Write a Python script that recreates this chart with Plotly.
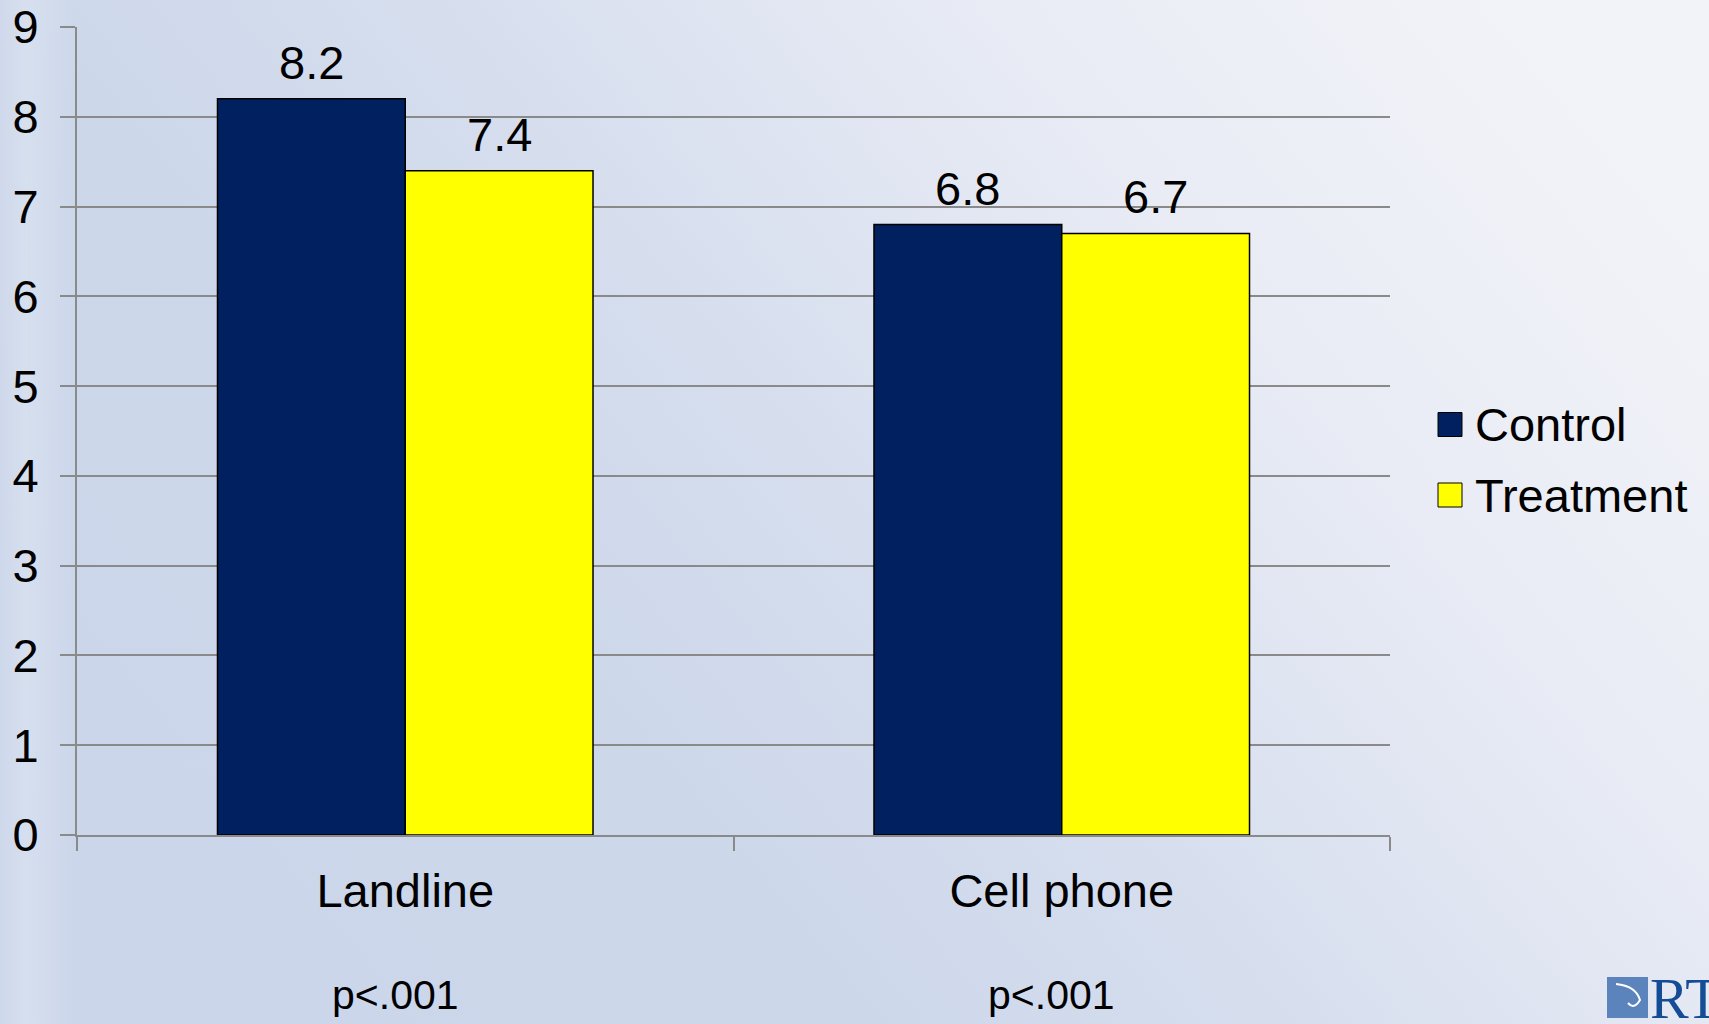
import base64
import plotly.graph_objects as go

# ---- data -------------------------------------------------------------
categories = ["Landline", "Cell phone"]
series_names = ["Control", "Treatment"]
control_values = [8.2, 6.8]
treatment_values = [7.4, 6.7]
p_value_labels = ["p<.001", "p<.001"]
y_tick_values = list(range(0, 10))

# ---- styling ----------------------------------------------------------
W, H = 1709, 1024
M_L, M_R, M_T, M_B = 77, 319, 27, 189
PLOT_W = W - M_L - M_R
PLOT_H = H - M_T - M_B
FONT = "Liberation Sans, Arial, sans-serif"
NAVY = "#00205f"
YELLOW = "#ffff00"
GRID = "#8a8a8a"
series_colors = [NAVY, YELLOW]


def px_x(x):
    """Pixel column -> paper x."""
    return (x - M_L) / PLOT_W


def px_y(y):
    """Pixel row -> paper y."""
    return (M_T + PLOT_H - y) / PLOT_H


# soft slide-style background gradient as an inline SVG
bg_svg = f"""<svg xmlns='http://www.w3.org/2000/svg' width='{W}' height='{H}' viewBox='0 0 {W} {H}'>
<defs>
<linearGradient id='g' x1='0' y1='0.75' x2='1' y2='0.25'>
<stop offset='0' stop-color='#cbd6ea'/>
<stop offset='0.3' stop-color='#ccd7ea'/>
<stop offset='0.5' stop-color='#d6deee'/>
<stop offset='0.77' stop-color='#e9ecf5'/>
<stop offset='1' stop-color='#f2f3f8'/>
</linearGradient>
<linearGradient id='s' x1='0' y1='0' x2='1' y2='0'>
<stop offset='0' stop-color='#ffffff' stop-opacity='0.05'/>
<stop offset='0.35' stop-color='#ffffff' stop-opacity='0.22'/>
<stop offset='1' stop-color='#ffffff' stop-opacity='0'/>
</linearGradient>
</defs>
<rect width='{W}' height='{H}' fill='url(#g)'/>
<rect width='75' height='{H}' fill='url(#s)'/>
</svg>"""
bg_uri = "data:image/svg+xml;base64," + base64.b64encode(bg_svg.encode()).decode()

fig = go.Figure()
for name, vals, color in zip(series_names, [control_values, treatment_values], series_colors):
    fig.add_trace(go.Bar(
        name=name,
        x=categories,
        y=vals,
        marker=dict(color=color, line=dict(color="#000000", width=1.5)),
        showlegend=False,
        hoverinfo="x+y+name",
    ))

annotations = []
# value labels above each bar
bar_half_offset = PLOT_W / len(categories) * (1 - 0.428) / 4
for si, vals in enumerate([control_values, treatment_values]):
    shift = -bar_half_offset if si == 0 else bar_half_offset
    for cat, v in zip(categories, vals):
        annotations.append(dict(
            x=cat, y=v, xref="x", yref="y", text=f"{v:.1f}",
            showarrow=False, xanchor="center", yanchor="bottom",
            xshift=shift, yshift=8,
            font=dict(family=FONT, size=47, color="#000000"),
        ))

# significance notes under each category
for cat, p in zip(categories, p_value_labels):
    annotations.append(dict(
        x=cat, y=px_y(995), xref="x", yref="paper", text=p,
        showarrow=False, xanchor="center", yanchor="middle", xshift=-10,
        font=dict(family=FONT, size=41, color="#000000"),
    ))

# legend: coloured squares with series names
shapes = []
legend_rows = [424.5, 495]
for name, color, yc in zip(series_names, series_colors, legend_rows):
    shapes.append(dict(
        type="rect", xref="paper", yref="paper",
        x0=px_x(1438), x1=px_x(1462), y0=px_y(yc + 12), y1=px_y(yc - 12),
        fillcolor=color, line=dict(color="#000000", width=1),
    ))
    annotations.append(dict(
        x=px_x(1473), y=px_y(yc), xref="paper", yref="paper", text=name,
        showarrow=False, xanchor="left", yanchor="middle",
        font=dict(family=FONT, size=47, color="#000000"),
    ))

# corner logo (runs off the right edge of the slide)
shapes.append(dict(
    type="rect", xref="paper", yref="paper",
    x0=px_x(1607), x1=px_x(1648), y0=px_y(1018), y1=px_y(977),
    fillcolor="#5b84bc", line=dict(width=0),
))
shapes.append(dict(
    type="path", xref="paper", yref="paper",
    path=(f"M {px_x(1616)},{px_y(984)} Q {px_x(1636)},{px_y(986)} {px_x(1640)},{px_y(1000)} "
          f"Q {px_x(1634)},{px_y(1010)} {px_x(1628)},{px_y(1003)}"),
    line=dict(color="#ffffff", width=2),
))
annotations.append(dict(
    x=px_x(1648), y=px_y(998), xref="paper", yref="paper", text="RTI",
    showarrow=False, xanchor="left", yanchor="middle",
    font=dict(family="Liberation Serif, Times New Roman, serif", size=58, color="#154c96"),
))

fig.update_layout(
    width=W, height=H,
    margin=dict(l=M_L, r=M_R, t=M_T, b=M_B, pad=0, autoexpand=False),
    paper_bgcolor="#d8dfee",
    plot_bgcolor="rgba(0,0,0,0)",
    barmode="group",
    bargap=0.428,
    bargroupgap=0,
    showlegend=False,
    font=dict(family=FONT, size=47, color="#000000"),
    annotations=annotations,
    shapes=shapes,
    images=[dict(
        source=bg_uri, xref="paper", yref="paper",
        x=px_x(0), y=px_y(0), sizex=W / PLOT_W, sizey=H / PLOT_H,
        xanchor="left", yanchor="top", sizing="stretch", layer="below",
    )],
    xaxis=dict(
        type="category",
        automargin=False,
        showline=True, linecolor=GRID, linewidth=2,
        ticks="outside", tickson="boundaries", ticklen=14, tickcolor=GRID, tickwidth=2,
        showgrid=False,
        tickfont=dict(family=FONT, size=47, color="#000000"),
        ticklabelstandoff=14,
    ),
    yaxis=dict(
        range=[0, 9],
        automargin=False,
        tickvals=y_tick_values,
        showline=True, linecolor=GRID, linewidth=2,
        ticks="outside", ticklen=15, tickcolor=GRID, tickwidth=2,
        showgrid=True, gridcolor=GRID, gridwidth=2,
        zeroline=False,
        tickfont=dict(family=FONT, size=47, color="#000000"),
        ticklabelstandoff=12,
        ticklabeloverflow="allow",
    ),
)

fig.write_html("out.html")
